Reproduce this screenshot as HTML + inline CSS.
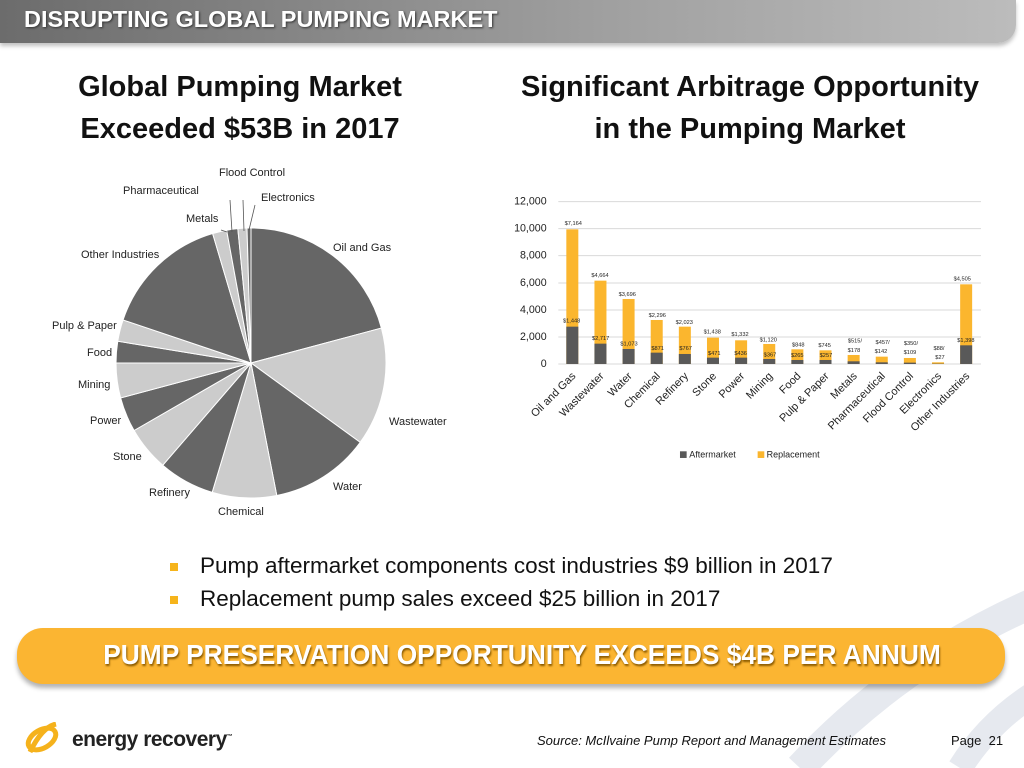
<!DOCTYPE html>
<html><head><meta charset="utf-8"><style>
html,body{margin:0;padding:0;background:#fff}
body{width:1024px;height:768px;position:relative;overflow:hidden;font-family:"Liberation Sans",sans-serif}
.hdr{position:absolute;left:0;top:0;width:1016px;height:43px;background:linear-gradient(90deg,#6c6c6c,#a0a0a0 60%,#bcbcbc);border-bottom-right-radius:18px;box-shadow:0 3px 4px rgba(0,0,0,.25)}
.hdr span{position:absolute;left:24px;top:6px;color:#fff;font-weight:bold;font-size:23.5px;text-shadow:1px 1px 2px #333}
.t{position:absolute;font-weight:bold;font-size:29px;color:#111;text-align:center;line-height:42px}
.pill{position:absolute;left:17px;top:628px;width:988px;height:56px;border-radius:26px;background:#fbb532;box-shadow:0 4px 5px rgba(0,0,0,.3)}
.pill span{position:absolute;left:11px;width:100%;top:11px;text-align:center;color:#fff;font-weight:bold;font-size:28px;text-shadow:1px 2px 2px #8a5a00;transform:scaleX(.94)}
.b{position:absolute;left:200px;font-size:22.5px;color:#111}
.sq{position:absolute;left:170px;width:8px;height:8px;background:#f6b41b}
</style></head><body>
<svg style="position:absolute;left:0;top:0" width="1024" height="768">
<path d="M1040 600 Q900 660 800 768" stroke="#e6e9ef" stroke-width="30" fill="none"/>
<path d="M1040 690 Q990 720 960 768" stroke="#e6e9ef" stroke-width="25" fill="none"/>
</svg>
<div class="hdr"><span>DISRUPTING GLOBAL PUMPING MARKET</span></div>
<div class="t" style="left:40px;width:400px;top:66px">Global Pumping Market<br>Exceeded $53B in 2017</div>
<div class="t" style="left:490px;width:520px;top:66px">Significant Arbitrage Opportunity<br>in the Pumping Market</div>
<svg id="pie" style="position:absolute;left:0;top:0" width="500" height="530" font-size="11" fill="#222"></svg>
<svg style="position:absolute;left:480px;top:190px" width="544" height="290">
<g transform="scale(0.3333)" font-family="Liberation Sans,sans-serif">
<g stroke="#d9d9d9" stroke-width="3">
<line x1="235" x2="1503" y1="35" y2="35"/><line x1="235" x2="1503" y1="116" y2="116"/><line x1="235" x2="1503" y1="197" y2="197"/><line x1="235" x2="1503" y1="279" y2="279"/><line x1="235" x2="1503" y1="360" y2="360"/><line x1="235" x2="1503" y1="441" y2="441"/><line x1="235" x2="1503" y1="522" y2="522"/>
</g>
<g font-size="32" text-anchor="end" fill="#222" dominant-baseline="middle">
<text x="200" y="35">12,000</text><text x="200" y="116">10,000</text><text x="200" y="197">8,000</text><text x="200" y="279">6,000</text><text x="200" y="360">4,000</text><text x="200" y="441">2,000</text><text x="200" y="522">0</text>
</g>
<g id="bars"></g>
<g font-size="17" text-anchor="middle" fill="#222" dominant-baseline="middle">
<text x="280" y="100">$7,164</text><text x="275" y="393">$1,448</text><text x="360" y="257">$4,664</text><text x="362" y="446">$2,717</text><text x="442" y="314">$3,696</text><text x="447" y="462">$1,073</text><text x="532" y="376">$2,296</text><text x="533" y="476">$871</text><text x="613" y="397">$2,023</text><text x="617" y="476">$767</text><text x="697" y="426">$1,438</text><text x="703" y="491">$471</text><text x="780" y="434">$1,332</text><text x="782" y="490">$436</text><text x="865" y="450">$1,120</text><text x="870" y="495">$367</text><text x="955" y="465">$848</text><text x="952" y="497">$265</text><text x="1034" y="467">$745</text><text x="1038" y="497">$257</text><text x="1125" y="453">$515/</text><text x="1122" y="481">$178</text><text x="1208" y="458">$457/</text><text x="1203" y="484">$142</text><text x="1293" y="461">$350/</text><text x="1290" y="487">$109</text><text x="1377" y="476">$88/</text><text x="1380" y="502">$27</text><text x="1447" y="267">$4,505</text><text x="1458" y="452">$1,398</text>
</g>
<g id="cats" font-size="33" fill="#222" text-anchor="end"></g>
<rect x="600" y="784" width="20" height="20" fill="#595959"/><text x="628" y="803" font-size="27" fill="#222">Aftermarket</text>
<rect x="833" y="784" width="20" height="20" fill="#fbb62e"/><text x="860" y="803" font-size="27" fill="#222">Replacement</text>
</g></svg>
<div class="sq" style="top:563px"></div><div class="b" style="top:553px">Pump aftermarket components cost industries $9 billion in 2017</div>
<div class="sq" style="top:596px"></div><div class="b" style="top:586px">Replacement pump sales exceed $25 billion in 2017</div>
<div class="pill"><span>PUMP PRESERVATION OPPORTUNITY EXCEEDS $4B PER ANNUM</span></div>
<svg style="position:absolute;left:22px;top:722px" width="50" height="34"><ellipse cx="20" cy="17" rx="15" ry="9" fill="none" stroke="#f5b21c" stroke-width="5" transform="rotate(-30 20 17)"/><path d="M8 30 Q20 5 34 2" stroke="#f5b21c" stroke-width="5" fill="none"/></svg>
<div style="position:absolute;left:72px;top:728px;font-size:21px;font-weight:bold;color:#222;letter-spacing:-0.5px">energy recovery<sup style="font-size:6px">™</sup></div>
<div style="position:absolute;left:537px;top:733px;font-size:13px;font-style:italic;color:#111">Source: McIlvaine Pump Report and Management Estimates</div>
<div style="position:absolute;left:951px;top:733px;font-size:13px;color:#111">Page &nbsp;21</div>
<script>
var ns="http://www.w3.org/2000/svg";
function el(p,t,a,txt){var e=document.createElementNS(ns,t);for(var k in a)e.setAttribute(k,a[k]);if(txt)e.textContent=txt;p.appendChild(e);return e;}
var pie=document.getElementById("pie"),cx=251,cy=363,r=135;
var b=[0,75,126,169,196.7,220.8,240,255,270,279.3,288.6,343.5,349.6,354.4,358.3,360];
function pt(a,rr){a=a*Math.PI/180;return[cx+rr*Math.sin(a),cy-rr*Math.cos(a)];}
for(var i=0;i<15;i++){var p1=pt(b[i],r),p2=pt(b[i+1],r);var lg=(b[i+1]-b[i])>180?1:0;
el(pie,"path",{d:"M"+cx+" "+cy+"L"+p1[0]+" "+p1[1]+"A"+r+" "+r+" 0 "+lg+" 1 "+p2[0]+" "+p2[1]+"Z",fill:i%2?"#cccccc":"#666666",stroke:"#fff","stroke-width":"1"});}
var L=[["Flood Control",219,176],["Pharmaceutical",123,194],["Electronics",261,201],["Metals",186,222],["Oil and Gas",333,251],["Other Industries",81,258],["Pulp & Paper",52,329],["Food",87,356],["Mining",78,388],["Wastewater",389,425],["Power",90,424],["Stone",113,460],["Water",333,490],["Refinery",149,496],["Chemical",218,515]];
L.forEach(function(l){el(pie,"text",{x:l[1],y:l[2],"font-family":"Liberation Sans,sans-serif"},l[0]);});
el(pie,"path",{d:"M230 200L232 232M243 200L244 231M255 205L249 230M221 230L227 232",stroke:"#555","stroke-width":"0.8",fill:"none"});
var bars=document.getElementById("bars"),cats=document.getElementById("cats");
var T=[118,272,327,390,410,443,451,462,478,481,495,500,504,517,283],A=[410,461,477,488,492,503,503,507,510,510,514,517,518,521,466];
var N=["Oil and Gas","Wastewater","Water","Chemical","Refinery","Stone","Power","Mining","Food","Pulp & Paper","Metals","Pharmaceutical","Flood Control","Electronics","Other Industries"];
for(var i=0;i<15;i++){var x=277+i*84.4;
el(bars,"rect",{x:x-18,y:T[i],width:36,height:522-T[i],fill:"#fbb62e"});
el(bars,"rect",{x:x-18,y:A[i],width:36,height:522-A[i],fill:"#595959"});
el(cats,"text",{x:x+12,y:560,transform:"rotate(-45 "+(x+12)+" 560)"},N[i]);}
</script>
</body></html>
